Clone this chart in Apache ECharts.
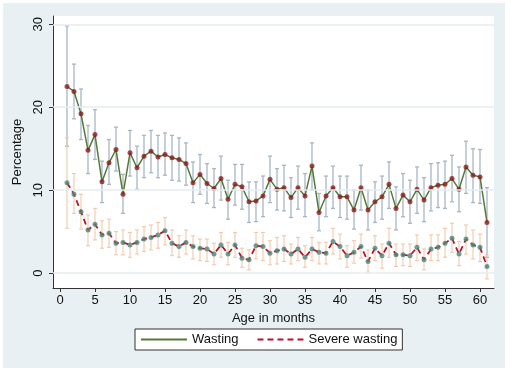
<!DOCTYPE html>
<html>
<head>
<meta charset="utf-8">
<script src="https://cdn.jsdelivr.net/npm/echarts@6/dist/echarts.min.js"></script>
<style>
  html, body { margin: 0; padding: 0; background: #fff; }
  #chart { width: 510px; height: 371px; }
</style>
</head>
<body>
<div id="chart"></div>
<script>
var months = [1, 2, 3, 4, 5, 6, 7, 8, 9, 10, 11, 12, 13, 14, 15, 16, 17, 18, 19, 20,
  21, 22, 23, 24, 25, 26, 27, 28, 29, 30, 31, 32, 33, 34, 35, 36, 37, 38, 39, 40,
  41, 42, 43, 44, 45, 46, 47, 48, 49, 50, 51, 52, 53, 54, 55, 56, 57, 58, 59, 60, 61];

var wasting = [22.5, 21.9, 19.2, 14.8, 16.7, 11.0, 13.3, 14.9, 9.5, 14.5,
  12.7, 14.1, 14.7, 14.0, 14.3, 13.9, 13.7, 13.2, 10.9, 11.9,
  10.8, 10.2, 11.4, 8.9, 10.7, 10.4, 8.6, 8.7, 9.3, 11.3,
  10.1, 10.3, 9.1, 10.3, 9.3, 12.9, 7.3, 9.3, 10.3, 9.2,
  9.2, 7.6, 10.3, 7.6, 8.6, 9.2, 10.7, 7.8, 9.4, 8.6,
  10.1, 8.8, 10.3, 10.6, 10.7, 11.4, 10.1, 12.8, 11.8, 11.6, 6.1];
var wastingLo = [15.3, 18.6, 16.1, 12.0, 13.7, 8.5, 10.7, 12.3, 7.2, 11.7,
  10.1, 11.5, 12.1, 11.5, 11.8, 11.2, 11.1, 10.6, 8.5, 9.5,
  8.4, 7.9, 8.8, 6.5, 8.2, 7.7, 6.1, 6.2, 6.8, 8.5,
  7.6, 7.5, 6.7, 7.7, 6.8, 10.0, 5.1, 6.8, 7.8, 6.7,
  6.5, 5.3, 7.6, 5.2, 6.1, 6.5, 7.8, 5.2, 6.8, 6.0,
  7.2, 6.2, 7.5, 7.9, 7.8, 8.6, 7.4, 9.6, 8.5, 8.4, 1.9];
var wastingHi = [29.8, 25.2, 22.2, 17.8, 19.7, 13.5, 16.1, 17.6, 11.9, 17.2,
  15.3, 16.6, 17.2, 16.6, 16.9, 16.6, 16.3, 15.7, 13.4, 14.3,
  13.2, 12.6, 14.1, 11.2, 13.1, 13.1, 11.0, 11.0, 11.7, 14.1,
  12.6, 13.0, 11.5, 12.9, 12.0, 15.7, 9.6, 11.7, 12.9, 11.7,
  11.7, 10.0, 13.0, 10.0, 11.0, 11.7, 13.4, 10.4, 12.0, 11.2,
  12.8, 11.5, 13.2, 13.3, 13.5, 14.2, 12.8, 15.9, 15.0, 14.9, 10.3];

var severe = [10.9, 9.5, 7.4, 5.2, 5.9, 4.6, 4.8, 3.6, 3.7, 3.4,
  3.7, 4.1, 4.3, 4.6, 5.1, 3.6, 3.2, 3.7, 3.2, 3.0,
  2.9, 2.3, 3.4, 2.3, 3.4, 1.8, 1.6, 3.3, 3.2, 2.4,
  2.7, 2.9, 2.3, 2.9, 1.9, 2.9, 2.5, 2.4, 3.8, 3.2,
  2.1, 2.5, 3.2, 1.4, 3.0, 2.1, 3.6, 2.2, 2.2, 2.1,
  3.1, 1.6, 2.9, 3.1, 3.6, 4.2, 2.3, 4.1, 3.4, 3.1, 0.8];
var severeLo = [5.4, 7.2, 5.3, 3.3, 4.0, 3.0, 3.1, 2.2, 2.2, 1.9,
  2.3, 2.6, 2.8, 3.0, 3.4, 2.1, 1.9, 2.3, 1.7, 1.5,
  1.4, 1.0, 1.9, 1.0, 1.9, 0.7, 0.4, 1.7, 1.5, 1.0,
  1.1, 1.4, 1.1, 1.5, 0.7, 1.5, 1.1, 1.1, 2.3, 1.7,
  0.7, 1.2, 1.8, 0.1, 1.5, 0.6, 1.9, 0.8, 0.9, 0.8,
  1.5, 0.4, 1.5, 1.5, 1.9, 2.5, 0.9, 2.3, 1.7, 1.4, -0.7];
var severeHi = [16.3, 12.0, 9.5, 7.0, 7.8, 6.3, 6.5, 5.0, 5.2, 4.9,
  5.2, 5.6, 5.8, 6.1, 6.7, 5.2, 4.5, 5.2, 4.5, 4.1,
  4.1, 3.6, 4.9, 3.7, 4.9, 3.0, 2.8, 4.9, 4.9, 3.9,
  4.3, 4.5, 3.5, 4.3, 3.3, 4.3, 3.7, 3.7, 5.4, 4.7,
  3.3, 3.9, 4.7, 2.8, 4.5, 3.5, 5.4, 3.5, 3.5, 3.5,
  4.6, 2.9, 4.6, 4.6, 5.4, 6.0, 3.8, 5.8, 5.2, 4.7, 2.2];

var xTicks = [0, 5, 10, 15, 20, 25, 30, 35, 40, 45, 50, 55, 60];
var yTicks = [0, 10, 20, 30];

var font = 'Liberation Sans, Arial, sans-serif';

function pairs(vals) {
  return months.map(function (m, i) { return [m, vals[i]]; });
}

// vertical CI bars with small caps
function errBars(lo, hi, color, width) {
  return {
    type: 'custom',
    silent: true,
    z: 1,
    data: months.map(function (m, i) { return [m, lo[i], hi[i]]; }),
    encode: { x: 0, y: [1, 2] },
    renderItem: function (params, api) {
      var top = api.coord([api.value(0), api.value(2)]);
      var bot = api.coord([api.value(0), api.value(1)]);
      var c = 2;
      var st = { stroke: color, lineWidth: width };
      return {
        type: 'group',
        children: [
          { type: 'line', shape: { x1: top[0], y1: top[1], x2: bot[0], y2: bot[1] }, style: st },
          { type: 'line', shape: { x1: top[0] - c, y1: top[1], x2: top[0] + c, y2: top[1] }, style: st },
          { type: 'line', shape: { x1: bot[0] - c, y1: bot[1], x2: bot[0] + c, y2: bot[1] }, style: st }
        ]
      };
    }
  };
}

var option = {
  backgroundColor: '#ffffff',
  animation: false,
  textStyle: { fontFamily: font },
  graphic: [{
    type: 'rect',
    z: -10,
    silent: true,
    shape: { x: 3, y: 3, width: 502, height: 365 },
    style: { fill: '#e9f0f3' }
  }],
  grid: {
    left: 53, right: 16, top: 16, bottom: 83,
    show: true, backgroundColor: '#ffffff', borderWidth: 0
  },
  legend: {
    data: ['Wasting', 'Severe wasting'],
    top: 329,
    left: 135,
    padding: [4, 5],
    itemWidth: 46,
    itemHeight: 14,
    itemGap: 18,
    itemStyle: { opacity: 0, color: 'rgba(0,0,0,0)', borderWidth: 0 },
    backgroundColor: '#ffffff',
    borderColor: '#333333',
    borderWidth: 1,
    textStyle: { fontFamily: font, fontSize: 13, color: '#111' }
  },
  xAxis: {
    type: 'value',
    min: -1, max: 62,
    name: 'Age in months',
    nameLocation: 'middle',
    nameGap: 20,
    nameTextStyle: { fontFamily: font, fontSize: 13, color: '#111' },
    axisLine: { show: true, onZero: false, lineStyle: { color: '#333', width: 1 } },
    axisTick: { show: true, length: 4, customValues: xTicks, lineStyle: { color: '#333' } },
    axisLabel: { customValues: xTicks, margin: 6, fontSize: 13, color: '#111', fontFamily: font },
    splitLine: { show: false }
  },
  yAxis: {
    type: 'value',
    min: -1.8, max: 31,
    name: 'Percentage',
    nameLocation: 'middle',
    nameGap: 25,
    nameTextStyle: { fontFamily: font, fontSize: 13, color: '#111' },
    axisLine: { show: true, onZero: false, lineStyle: { color: '#333', width: 1 } },
    axisTick: { show: true, length: 4, customValues: yTicks, lineStyle: { color: '#333' } },
    axisLabel: { customValues: yTicks, rotate: 90, margin: 8, fontSize: 13, color: '#111', fontFamily: font },
    splitLine: { show: false }
  },
  series: [
    {
      // y gridlines
      type: 'line',
      data: [],
      silent: true,
      z: 0,
      markLine: {
        silent: true,
        symbol: 'none',
        label: { show: false },
        lineStyle: { color: '#e6ecef', width: 1.5, type: 'solid' },
        data: yTicks.map(function (v) { return { yAxis: v }; })
      }
    },
    errBars(wastingLo, wastingHi, '#a7b6c6', 1.3),
    errBars(severeLo, severeHi, '#f3c8a6', 1.1),
    {
      name: 'Wasting',
      type: 'line',
      data: pairs(wasting),
      symbol: 'none',
      z: 3,
      lineStyle: { color: '#56793a', width: 1.5 },
      itemStyle: { color: '#56793a' }
    },
    {
      name: 'Severe wasting',
      type: 'line',
      data: pairs(severe),
      symbol: 'none',
      z: 3,
      lineStyle: { color: '#b3152f', width: 1.8, type: [6, 4] },
      itemStyle: { color: '#b3152f' }
    },
    {
      type: 'scatter',
      data: pairs(wasting),
      symbolSize: 5,
      z: 4,
      silent: true,
      itemStyle: { color: '#8a1d1d' }
    },
    {
      type: 'scatter',
      data: pairs(severe),
      symbolSize: 5,
      z: 4,
      silent: true,
      itemStyle: { color: '#4e8479' }
    }
  ]
};

var myChart = echarts.init(document.getElementById('chart'));
myChart.setOption(option, true);
</script>
</body>
</html>
